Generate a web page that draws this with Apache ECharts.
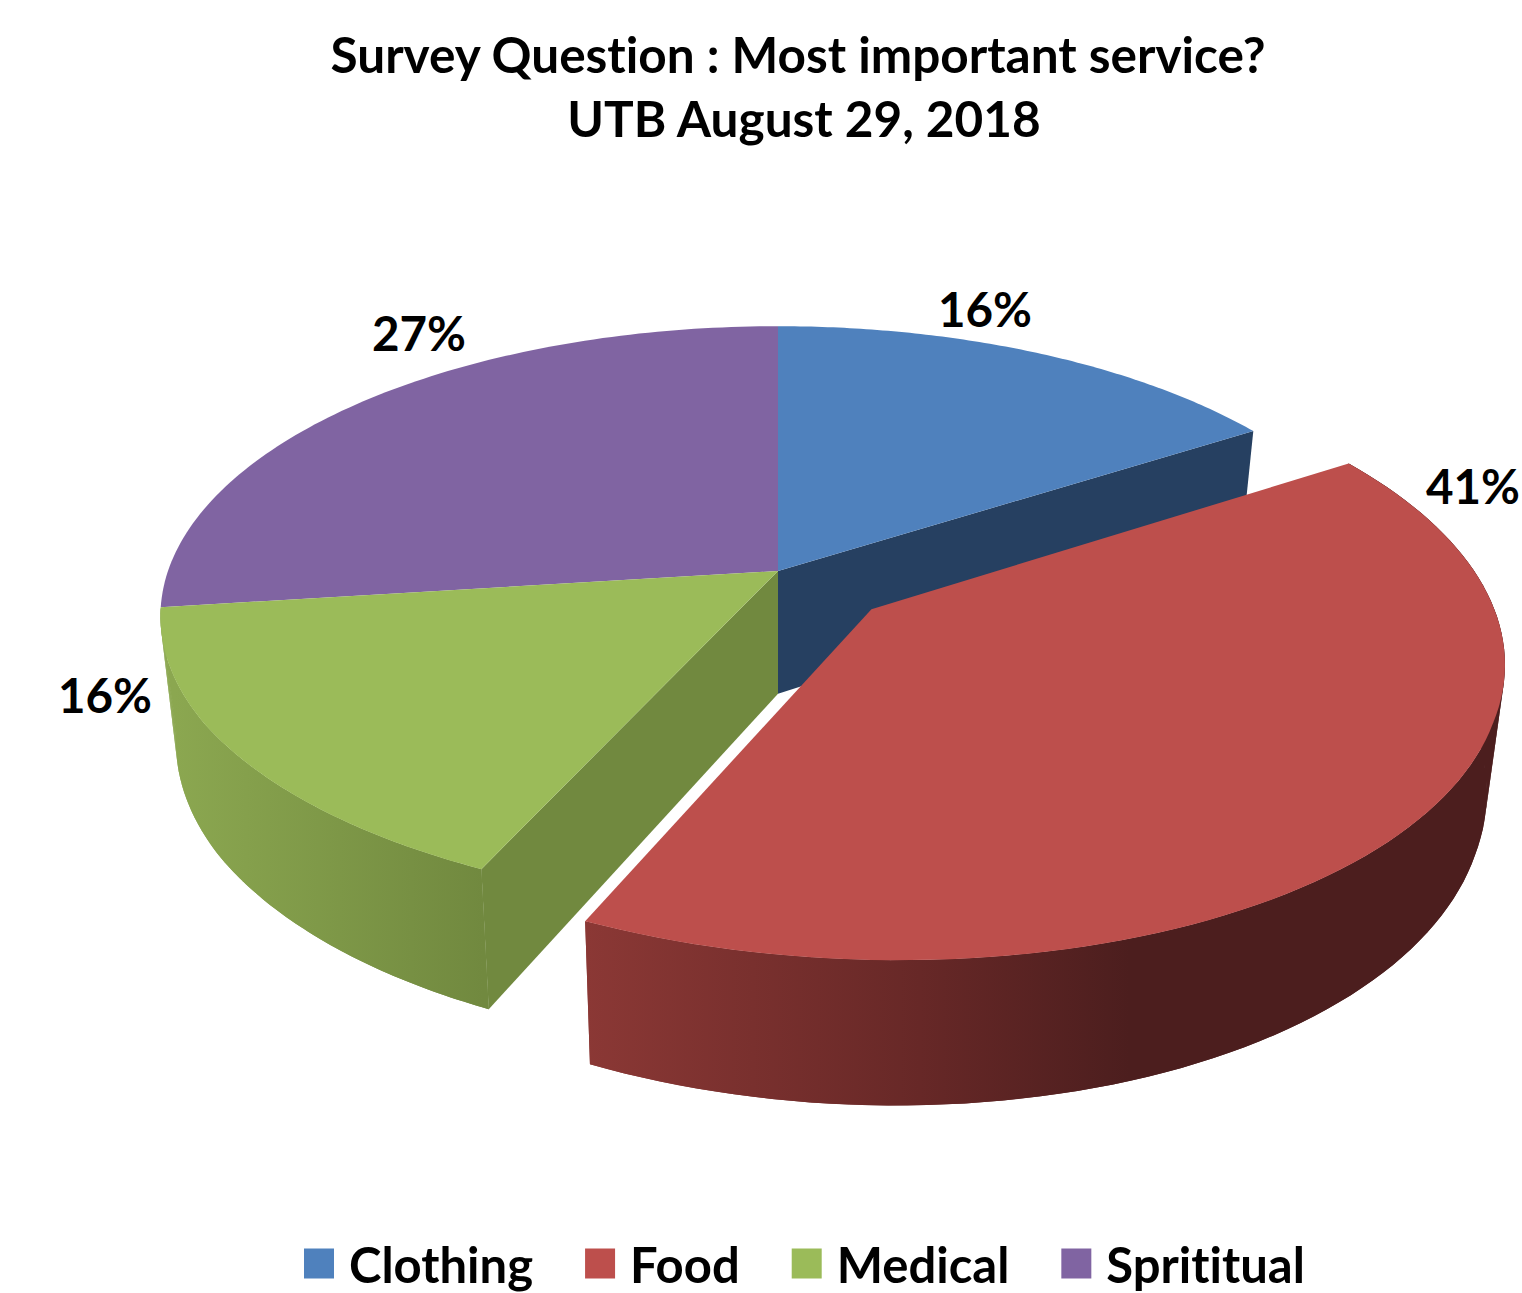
<!DOCTYPE html>
<html>
<head>
<meta charset="utf-8">
<style>
html,body{margin:0;padding:0;background:#fff}
#chart{width:1522px;height:1293px}
#chart text{font-variant-ligatures:none}
</style>
<script src="https://cdn.jsdelivr.net/npm/echarts@6/dist/echarts.min.js"></script>
</head>
<body>
<div id="chart"></div>
<script>
// Survey results
const categories = ['Clothing', 'Food', 'Medical', 'Sprititual'];
const shares = [16, 41, 16, 27];
const titleLines = ['Survey Question : Most important service?', 'UTB August 29, 2018'];

// Palette
const topColors = ['#4f81bd', '#bd4f4c', '#9bbb59', '#8064a2'];
const cutColors = ['#264061', '#7a2e2c', '#71893f', '#4d3c62'];
const wallStops = {
  1: [[0, '#8b3835'], [0.615, '#672827'], [1, '#4c1e1e']],
  2: [[0, '#8ba750'], [1, '#71893f']]
};
const wallSpans = { 1: [585, 1130], 2: [175, 483] };

// Tilted-disc projection used for the pie
const layout = {
  originX: 778, originY: 571, radiusX: 610, radiusY: 283,
  perspective: 0.156,
  frontLean: 0.02, frontLeanFrom: 0.5,
  wallInset: 0.975, wallScaleY: 1.058, wallShift: 0.4336,
  explode: { 1: 0.2 }
};
const cutEdge = { 0: 'end', 2: 'start' };
const outerWall = { 1: true, 2: true };
const labelCentres = [[985, 308], [1473, 485], [105, 694], [419, 332]];
const titleCentres = [793, 799];
const drawOrder = [3, 0, 2, 1];

const starts = [];
shares.reduce((sum, v, i) => { starts[i] = sum; return sum + v; }, 0);
const total = shares.reduce((a, b) => a + b, 0);

function toAngle(part) { return part / total * Math.PI * 2; }

function project(u, v) {
  const w = 1 - layout.perspective * v;
  const lean = layout.frontLean * Math.max(v - layout.frontLeanFrom, 0);
  return [(u + lean) / w, v / w];
}

function lowerPlane(p) {
  return [p[0] * layout.wallInset, p[1] * layout.wallScaleY + layout.wallShift];
}

function renderSlice(index, params, api) {
  const share = api.value(0);
  const a0 = toAngle(starts[index]);
  const a1 = a0 + toAngle(share);
  const mid = (a0 + a1) / 2;
  const d = layout.explode[index] || 0;
  const ox = d * Math.sin(mid), oy = -d * Math.cos(mid);

  const rim = (a) => project(ox + Math.sin(a), oy - Math.cos(a));
  const apex = project(ox, oy);
  const steps = 96;
  const arc = [];
  for (let i = 0; i <= steps; i++) arc.push(rim(a0 + (a1 - a0) * i / steps));
  const px = (p) => api.coord(p);
  const children = [];

  if (cutEdge[index]) {
    const edge = cutEdge[index] === 'start' ? arc[0] : arc[steps];
    children.push({
      type: 'polygon',
      shape: { points: [apex, edge, lowerPlane(edge), lowerPlane(apex)].map(px) },
      style: { fill: cutColors[index] }
    });
  }
  if (outerWall[index]) {
    const span = wallSpans[index];
    const fill = new echarts.graphic.LinearGradient(span[0], 0, span[1], 0, wallStops[index].map(
      (s) => ({ offset: s[0], color: s[1] })), true);
    // Swept strips give the straight silhouette where the wall turns away from view
    for (let i = 0; i < steps; i += 2) {
      const a = arc[i], b = arc[i + 2];
      children.push({
        type: 'polygon',
        shape: { points: [a, b, lowerPlane(b), lowerPlane(a)].map(px) },
        style: { fill }
      });
    }
    children.push({
      type: 'polygon',
      shape: { points: arc.concat(arc.map(lowerPlane).reverse()).map(px) },
      style: { fill }
    });
  }
  children.push({
    type: 'polygon',
    shape: { points: [apex].concat(arc).map(px) },
    style: { fill: topColors[index] }
  });
  children.push({
    type: 'text',
    style: {
      text: share + '%',
      x: labelCentres[index][0], y: labelCentres[index][1],
      fill: '#000', align: 'center', verticalAlign: 'middle',
      font: 'bold 47.5px Lato'
    }
  });
  return { type: 'group', children };
}

const chart = echarts.init(document.getElementById('chart'), null, { renderer: 'svg' });
chart.setOption({
  animation: false,
  backgroundColor: '#fff',
  title: titleLines.map((line, i) => ({
    text: line,
    left: titleCentres[i], top: 17 + i * 64, textAlign: 'center',
    textStyle: { fontFamily: 'Lato', fontWeight: 'bold', fontSize: 49.5, lineHeight: 64, color: '#000' }
  })),
  legend: {
    data: categories,
    left: 299, top: 1234,
    itemWidth: 30, itemHeight: 30, itemGap: 52,
    icon: 'rect',
    selectedMode: false,
    textStyle: { fontFamily: 'Lato', fontWeight: 'bold', fontSize: 49, lineHeight: 40, color: '#000', padding: [0, 0, 0, 10] }
  },
  grid: { left: 0, right: 0, top: 0, bottom: 0 },
  xAxis: {
    type: 'value', show: false,
    min: -layout.originX / layout.radiusX,
    max: (1522 - layout.originX) / layout.radiusX
  },
  yAxis: {
    type: 'value', show: false, inverse: true,
    min: -layout.originY / layout.radiusY,
    max: (1293 - layout.originY) / layout.radiusY
  },
  series: drawOrder.map((index, order) => ({
    type: 'custom',
    name: categories[index],
    coordinateSystem: 'cartesian2d',
    clip: false,
    z: order + 2,
    itemStyle: { color: topColors[index] },
    encode: { x: 0, y: 0 },
    data: [[shares[index]]],
    renderItem: (params, api) => renderSlice(index, params, api)
  }))
});
</script>
</body>
</html>
